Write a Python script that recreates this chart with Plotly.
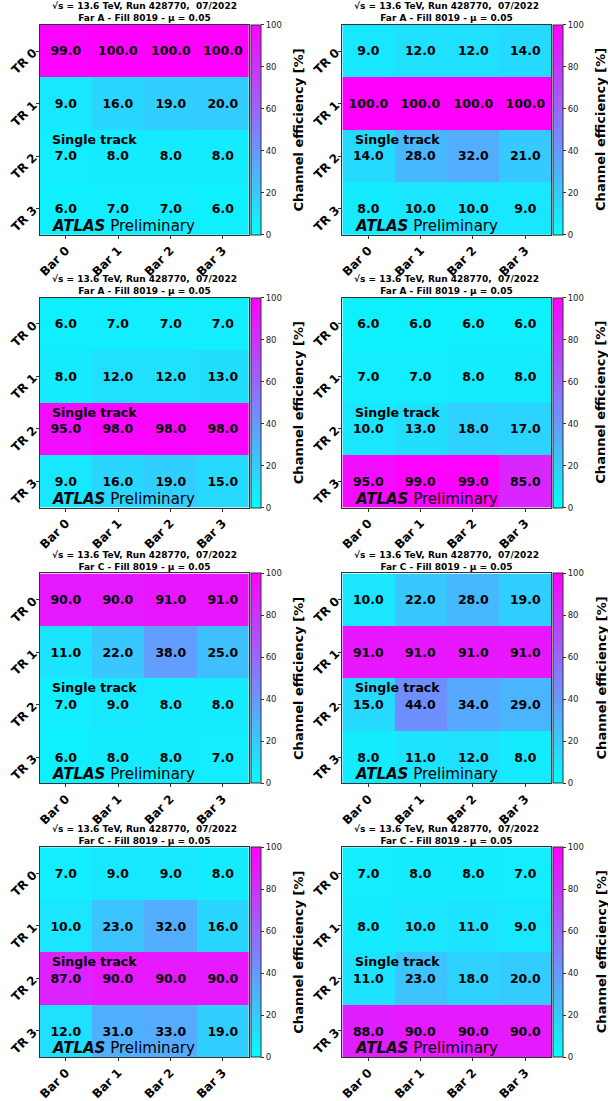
import plotly.graph_objects as go

bars = ["Bar 0", "Bar 1", "Bar 2", "Bar 3"]
trains = ["TR 0", "TR 1", "TR 2", "TR 3"]
title_line1 = "√s = 13.6 TeV, Run 428770,  07/2022"
subtitles = ["Far A - Fill 8019 - μ = 0.05", "Far A - Fill 8019 - μ = 0.05",
             "Far A - Fill 8019 - μ = 0.05", "Far A - Fill 8019 - μ = 0.05",
             "Far C - Fill 8019 - μ = 0.05", "Far C - Fill 8019 - μ = 0.05",
             "Far C - Fill 8019 - μ = 0.05", "Far C - Fill 8019 - μ = 0.05"]
cbar_title = "Channel efficiency [%]"
cbar_ticks = [0, 20, 40, 60, 80, 100]

panel1 = [[99, 100, 100, 100], [9, 16, 19, 20], [7, 8, 8, 8], [6, 7, 7, 6]]
panel2 = [[9, 12, 12, 14], [100, 100, 100, 100], [14, 28, 32, 21], [8, 10, 10, 9]]
panel3 = [[6, 7, 7, 7], [8, 12, 12, 13], [95, 98, 98, 98], [9, 16, 19, 15]]
panel4 = [[6, 6, 6, 6], [7, 7, 8, 8], [10, 13, 18, 17], [95, 99, 99, 85]]
panel5 = [[90, 90, 91, 91], [11, 22, 38, 25], [7, 9, 8, 8], [6, 8, 8, 7]]
panel6 = [[10, 22, 28, 19], [91, 91, 91, 91], [15, 44, 34, 29], [8, 11, 12, 8]]
panel7 = [[7, 9, 9, 8], [10, 23, 32, 16], [87, 90, 90, 90], [12, 31, 33, 19]]
panel8 = [[7, 8, 8, 7], [8, 10, 11, 9], [11, 23, 18, 20], [88, 90, 90, 90]]
panels = [panel1, panel2, panel3, panel4, panel5, panel6, panel7, panel8]

W, H = 608, 1101
FONT = "DejaVu Sans"
cool = [[0, "rgb(0,255,255)"], [1, "rgb(255,0,255)"]]

col_x = [(37, 247), (341, 551)]
row_top = [25, 298, 574, 848]
hm_h = 210

fig = go.Figure()
annotations = []
for i, z in enumerate(panels):
    r, c = divmod(i, 2)
    x0, x1 = col_x[c]
    t = row_top[r]
    b = t + hm_h
    xa = "xaxis" if i == 0 else f"xaxis{i+1}"
    ya = "yaxis" if i == 0 else f"yaxis{i+1}"
    xr = "x" if i == 0 else f"x{i+1}"
    yr = "y" if i == 0 else f"y{i+1}"
    fig.add_trace(go.Heatmap(
        z=z, x=[0, 1, 2, 3], y=[0, 1, 2, 3], xaxis=xr, yaxis=yr,
        colorscale=cool, zmin=0, zmax=100,
        texttemplate="%{z:.1f}",
        textfont=dict(family=FONT, size=12.5, color="black", weight="bold"),
        hoverinfo="skip",
        colorbar=dict(
            x=(x1 + 2) / W, xanchor="left", xpad=0, ypad=0,
            y=1 - (t + b) / 2 / H, yanchor="middle", len=hm_h / H, lenmode="fraction",
            thickness=10, thicknessmode="pixels",
            outlinewidth=1, outlinecolor="#333",
            tickvals=cbar_ticks, ticks="outside", ticklen=3,
            tickcolor="#333", tickfont=dict(family=FONT, size=8.5, color="#222"),
        ),
    ))
    fig.layout[xa] = dict(
        domain=[x0 / W, x1 / W], anchor=yr, range=[-0.5, 3.5],
        tickvals=[0, 1, 2, 3], ticktext=bars, tickangle=-45,
        tickfont=dict(family=FONT, size=12, color="black", weight="bold"),
        ticks="outside", ticklen=3, tickcolor="#333",
        showline=True, linecolor="#333", linewidth=1, mirror=True,
        showgrid=False, zeroline=False,
    )
    fig.layout[ya] = dict(
        domain=[1 - b / H, 1 - t / H], anchor=xr, range=[3.5, -0.5],
        tickvals=[0, 1, 2, 3], ticktext=trains, tickangle=-45,
        tickfont=dict(family=FONT, size=12, color="black", weight="bold"),
        ticks="outside", ticklen=3, tickcolor="#333",
        showline=True, linecolor="#333", linewidth=1, mirror=True,
        showgrid=False, zeroline=False,
    )
    annotations.append(dict(
        x=(x0 + x1) / 2 / W, y=1 - (t - 12.5) / H, xref="paper", yref="paper",
        xanchor="center", yanchor="middle", showarrow=False,
        text=f"{title_line1}<br>{subtitles[i]}",
        font=dict(family=FONT, size=9, color="black", weight="bold"),
    ))
    annotations.append(dict(
        x=(x1 + 50) / W, y=1 - (t + b) / 2 / H, xref="paper", yref="paper",
        xanchor="center", yanchor="middle", showarrow=False, textangle=-90,
        text=cbar_title,
        font=dict(family=FONT, size=13, color="black", weight="bold"),
    ))
    annotations.append(dict(
        x=-0.3, y=1.68, xref=xr, yref=yr, xanchor="left", yanchor="middle",
        showarrow=False, text="Single track",
        font=dict(family=FONT, size=12.5, color="black", weight="bold"),
    ))
    annotations.append(dict(
        x=-0.3, y=3.33, xref=xr, yref=yr, xanchor="left", yanchor="middle",
        showarrow=False, text="<b><i>ATLAS</i></b> Preliminary",
        font=dict(family=FONT, size=15, color="black"),
    ))

fig.update_layout(
    width=W, height=H, margin=dict(l=0, r=0, t=0, b=0),
    paper_bgcolor="white", plot_bgcolor="white",
    annotations=annotations, showlegend=False,
)
fig.write_html("out.html")
